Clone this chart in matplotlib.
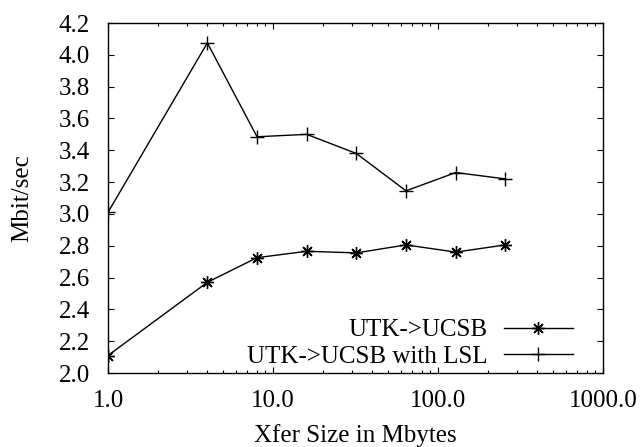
import matplotlib
matplotlib.use("Agg")
import matplotlib.pyplot as plt
from matplotlib.ticker import FixedLocator, LogLocator, NullFormatter

# transfer sizes (Mbytes) and throughput (Mbit/sec)
xfer_sizes = [1, 4, 8, 16, 32, 64, 128, 256]
direct_rate = [2.11, 2.57, 2.725, 2.765, 2.755, 2.805, 2.76, 2.805]
lsl_rate = [3.01, 4.075, 3.485, 3.50, 3.38, 3.145, 3.26, 3.22]

x_ticks = [1, 10, 100, 1000]
x_tick_labels = ["1.0", "10.0", "100.0", "1000.0"]
y_ticks = [2.0, 2.2, 2.4, 2.6, 2.8, 3.0, 3.2, 3.4, 3.6, 3.8, 4.0, 4.2]

plt.rcParams["font.family"] = ["Liberation Serif", "DejaVu Serif"]
plt.rcParams["font.size"] = 18

fig = plt.figure(figsize=(6.41, 4.47), dpi=100)
ax = fig.add_axes([108 / 641, 1 - 373 / 447, 495 / 641, 350 / 447])

ax.plot(xfer_sizes, direct_rate, color="black", linewidth=1.0,
        marker=(8, 2, 0), markersize=9, markeredgewidth=1.0,
        label="UTK->UCSB")
ax.plot(xfer_sizes, lsl_rate, color="black", linewidth=1.0,
        marker="+", markersize=10, markeredgewidth=1.0,
        label="UTK->UCSB with LSL")

ax.set_xscale("log")
ax.set_xlim(1, 1000)
ax.set_ylim(2.0, 4.2)
ax.xaxis.set_major_locator(FixedLocator(x_ticks))
ax.set_xticklabels(x_tick_labels)
ax.xaxis.set_minor_locator(LogLocator(base=10, subs=range(2, 10)))
ax.xaxis.set_minor_formatter(NullFormatter())
ax.set_yticks(y_ticks)
ax.set_yticklabels([f"{v:.1f}" for v in y_ticks])

ax.tick_params(which="both", direction="in", top=True, right=True,
               width=0.8, labelsize=18)
ax.tick_params(which="major", length=4.5)
ax.tick_params(which="minor", length=2.5)
ax.tick_params(axis="x", which="major", pad=12)
ax.tick_params(axis="y", which="major", pad=13)
for spine in ax.spines.values():
    spine.set_linewidth(1.0)

ax.set_xlabel("Xfer Size in Mbytes", labelpad=9)
ax.set_ylabel("Mbit/sec", labelpad=18)

ax.legend(loc="lower right", bbox_to_anchor=(0.939, 0.015),
          frameon=False, markerfirst=False, borderpad=0, borderaxespad=0,
          handlelength=2.76, handletextpad=0.64, labelspacing=0.15,
          fontsize=18)

fig.savefig("out.png", dpi=100)
